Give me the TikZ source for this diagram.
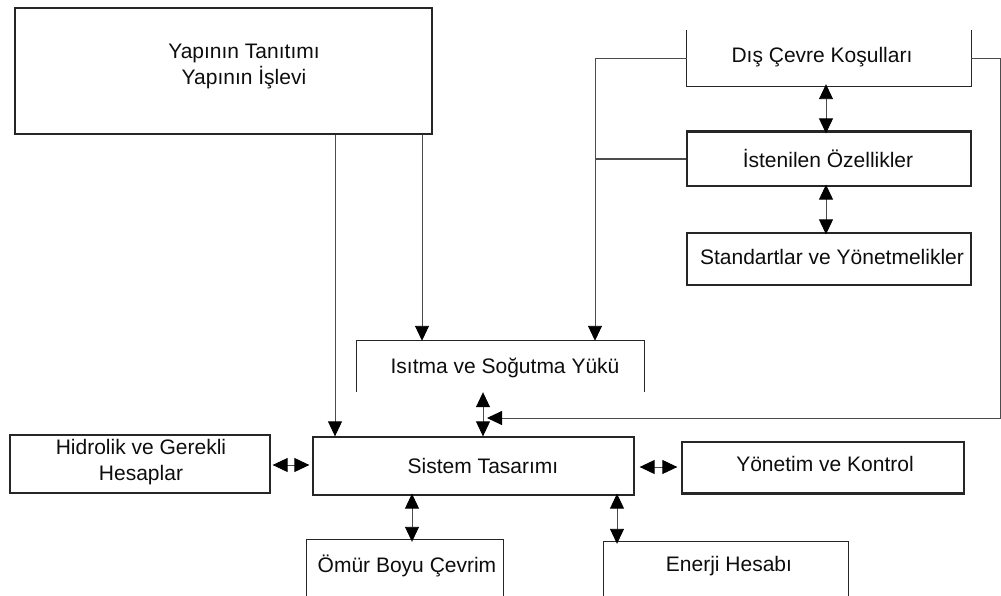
\documentclass[tikz,border=0pt]{standalone}
\usepackage{fontspec}
\setmainfont{Liberation Sans}
\usetikzlibrary{arrows.meta,calc}
\tikzset{
  boxst/.style={draw=black!85, line width=1.3pt, inner sep=0pt},
  nobox/.style={draw=none, inner sep=0pt},
  edge/.style={draw=black!85, line width=1.3pt},
  txt/.style={text=black!95, align=center, inner sep=0pt, font=\fontsize{21}{26}\selectfont},
  conn/.style={draw=black!70, line width=0.9pt},
  tip/.style={-{Triangle[width=14pt,length=15pt,black]}},
  dtip/.style={{Triangle[width=14pt,length=15pt,black]}-{Triangle[width=14pt,length=15pt,black]}}
}
\begin{document}
\begin{tikzpicture}[x=1pt,y=-1pt]
\useasboundingbox (0,0) rectangle (1001,596);
% boxes
\node[boxst, minimum width=417pt, minimum height=126pt] (yap) at (223.5,71) {};
\node[nobox, minimum width=284pt, minimum height=56pt] (dis) at (829,58) {};
\node[boxst, minimum width=284pt, minimum height=54pt] (ist) at (829,159) {};
\node[boxst, minimum width=284pt, minimum height=52pt] (std) at (829,259) {};
\node[nobox, minimum width=287pt, minimum height=51pt] (isi) at (500.5,366.5) {};
\node[boxst, minimum width=321pt, minimum height=58pt] (sis) at (473.5,466) {};
\node[boxst, minimum width=260pt, minimum height=58pt] (hid) at (140,464) {};
\node[boxst, minimum width=282pt, minimum height=51pt] (yon) at (823,467.5) {};
\node[nobox, minimum width=196pt, minimum height=66pt] (omr) at (405,573) {};
\node[nobox, minimum width=244pt, minimum height=64pt] (enr) at (726,574) {};
% partial box edges
\draw[edge] (dis.north west) -- (dis.south west) -- (dis.south east) -- (dis.north east);
\draw[edge] (isi.south west) -- (isi.north west) -- (isi.north east) -- (isi.south east);
\draw[edge] (omr.south west) -- (omr.north west) -- (omr.north east) -- (omr.south east);
\draw[edge] (enr.south west) -- (enr.north west) -- (enr.north east) -- (enr.south east);
\draw[edge, line width=2.4pt] (ist.north west) -- (ist.north east);
\draw[edge, line width=2.2pt] (yon.south west) -- (yon.south east);
% texts
\node[txt] (tyap) at (244,67) {Yapının Tanıtımı\\Yapının İşlevi};
\node[txt] (tdis) at (822,57) {Dış Çevre Koşulları};
\node[txt] (tist) at (828,158) {İstenilen Özellikler};
\node[txt] (tstd) at (832,257) {Standartlar ve Yönetmelikler};
\node[txt] (tisi) at (505,368) {Isıtma ve Soğutma Yükü};
\node[txt] (thid) at (141,462) {Hidrolik ve Gerekli\\Hesaplar};
\node[txt] (tsis) at (483,466) {Sistem Tasarımı};
\node[txt] (tyon) at (825,464) {Yönetim ve Kontrol};
\node[txt] (tomr) at (407,566) {Ömür Boyu Çevrim};
\node[txt] (tenr) at (729,566) {Enerji Hesabı};
% connectors
\coordinate (rc) at (1000.5,418);
\coordinate (jn) at (487,418);
\draw[conn, tip] (335,0 |- yap.south) -- (335,0 |- sis.north);
\draw[conn, tip] (422,0 |- yap.south) -- (422,0 |- isi.north);
\draw[conn, tip] (dis.west) -- (595,0 |- dis.west) -- (595,0 |- isi.north);
\draw[conn, line width=2pt] (ist.west) -- (595,0 |- ist.west);
\draw[conn, tip] (dis.east) -| (rc) -- (jn);
\draw[conn, dtip] ([xshift=-3pt,yshift=2pt]dis.south) -- ([xshift=-3pt,yshift=-2pt]ist.north);
\draw[conn, dtip] ([xshift=-3pt,yshift=2pt]ist.south) -- ([xshift=-3pt,yshift=-2pt]std.north);
\draw[conn, dtip] (483,0 |- isi.south) -- (483,0 |- sis.north);
\draw[conn, dtip] ([xshift=2pt,yshift=-1pt]hid.east) -- ([xshift=-3pt,yshift=-1pt]hid.east -| sis.west);
\draw[conn, dtip] ([xshift=5pt,yshift=-1pt]sis.east) -- ([xshift=-4pt,yshift=-1pt]sis.east -| yon.west);
\draw[conn, dtip] ([yshift=2pt]412,0 |- sis.south) -- ([yshift=-2pt]412,0 |- omr.north);
\draw[conn, dtip] ([yshift=2pt]617,0 |- sis.south) -- ([yshift=-2pt]617,0 |- enr.north);
\end{tikzpicture}
\end{document}
